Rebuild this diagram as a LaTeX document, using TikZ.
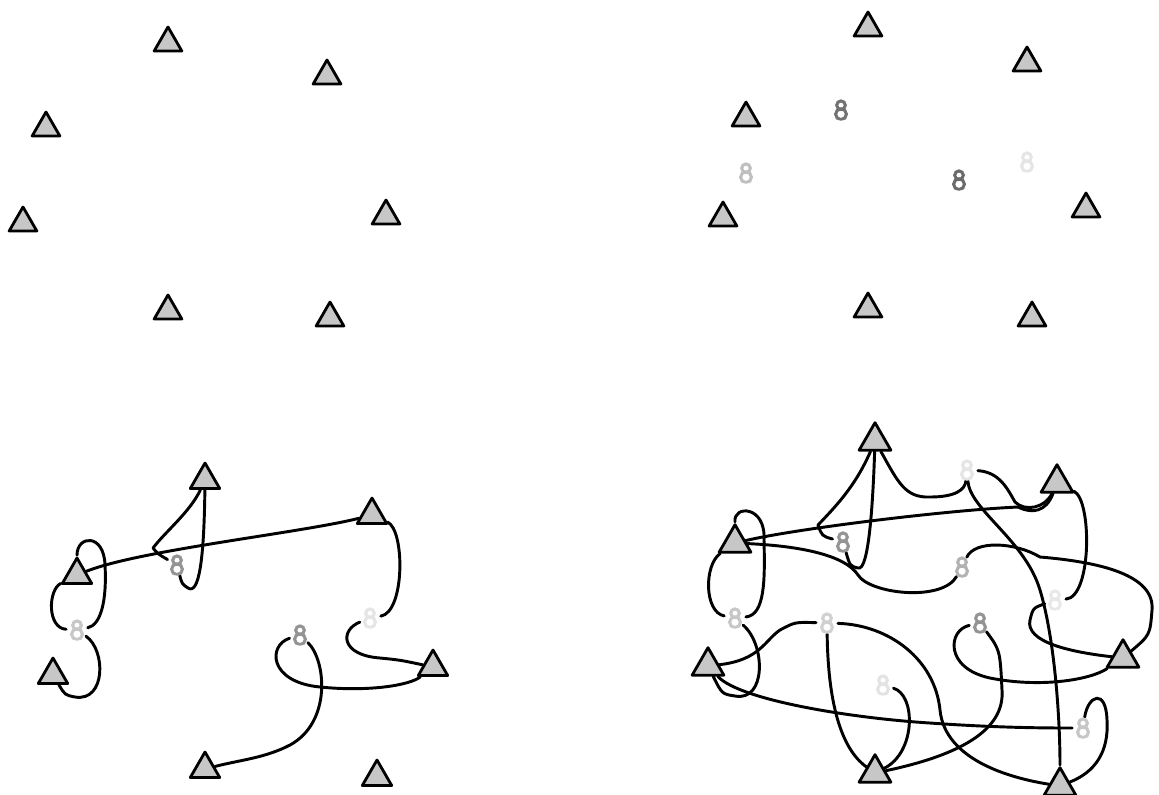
\documentclass[tikz,border=0pt]{standalone}
\usetikzlibrary{shapes.geometric}
\pgfdeclarelayer{bg}
\pgfsetlayers{bg,main}
\tikzset{
  tri/.style={regular polygon, regular polygon sides=3, draw=black, fill=black!22,
    line width=2.1pt, line join=round, inner sep=0pt, minimum size=#1},
  ts/.style={tri=24pt},
  tm/.style={tri=25.5pt},
  tl/.style={tri=27.5pt},
  icon/.style={circle, inner sep=0pt, minimum size=16pt,
    path picture={\draw[#1, line width=2.3pt, shift={(path picture bounding box.center)}]
      (0,-4.8) circle[radius=4.3] (0,4.2) circle[radius=5.4];}},
  wire/.style={draw=black, line width=2.2pt, line cap=round, line join=round}
}
\begin{document}
\begin{tikzpicture}[x=0.75pt,y=-0.75pt]
\useasboundingbox (0,0) rectangle (1159,794);
% ---------- top left ----------
\node[ts] (a1) at (168,43) {};
\node[ts] (a2) at (327,76) {};
\node[ts] (a3) at (46,128) {};
\node[ts] (a4) at (23,223) {};
\node[ts] (a5) at (386,216) {};
\node[ts] (a6) at (168,311) {};
\node[ts] (a7) at (330,318) {};
% ---------- top right ----------
\node[ts] (b1) at (868,28) {};
\node[ts] (b2) at (1027,63) {};
\node[ts] (b3) at (746,118) {};
\node[ts] (b4) at (723,218) {};
\node[ts] (b5) at (1086,209) {};
\node[ts] (b6) at (868,309) {};
\node[ts] (b7) at (1032,318) {};
\node[icon=black!55] (bi1) at (841,110) {};
\node[icon=black!25] (bi2) at (746,173) {};
\node[icon=black!58] (bi3) at (959,180) {};
\node[icon=black!10] (bi4) at (1027,162) {};
% ---------- bottom left ----------
\node[tm] (A) at (205,480) {};
\node[tm] (B) at (372,515) {};
\node[tm] (C) at (77,575) {};
\node[tm] (D) at (53,675) {};
\node[tm] (E) at (433,667) {};
\node[tm] (F) at (205,769) {};
\node[tm] (G) at (377,777) {};
\node[icon=black!42] (i1) at (177,565) {};
\node[icon=black!22] (i2) at (77,630) {};
\node[icon=black!42] (i3) at (300,635) {};
\node[icon=black!10] (i4) at (370,618) {};
% ---------- bottom right ----------
\node[tl] (T1) at (875,441) {};
\node[tl] (T2) at (1057,483) {};
\node[tl] (T3) at (735,543) {};
\node[tl] (T4) at (708,666) {};
\node[tl] (T5) at (1123,658) {};
\node[tl] (T6) at (875,773) {};
\node[tl] (T7) at (1060,786) {};
\node[icon=black!42] (j843) at (843,542) {};
\node[icon=black!10] (j967) at (967,470) {};
\node[icon=black!30] (j960) at (962,567) {};
\node[icon=black!22] (j735) at (735,618) {};
\node[icon=black!9] (j1055) at (1055,600) {};
\node[icon=black!18] (j828) at (827,623) {};
\node[icon=black!42] (j980) at (980,623) {};
\node[icon=black!11] (j883) at (883,685) {};
\node[icon=black!22] (j1083) at (1083,728) {};
\begin{pgfonlayer}{bg}
% bottom left connectors
\draw[wire] (C) .. controls (140,550) and (300,533) .. (B);
\draw[wire] (A) .. controls (190,512) and (165,532) .. (153,548) .. controls (158,554) .. (i1);
\draw[wire] (A) .. controls (204,560) and (199,595) .. (188,588) .. controls (182,584) .. (i1);
\draw[wire] (C) .. controls (48,590) and (47,628) .. (i2);
\draw[wire] (C.north) .. controls (77,535) and (104,533) .. (105,565) .. controls (107,600) and (101,625) .. (i2);
\draw[wire] (i2) .. controls (106,650) and (106,702) .. (75,697) .. controls (65,695) .. (D);
\draw[wire] (B) .. controls (405,530) and (405,612) .. (i4);
\draw[wire] (i4) .. controls (340,630) and (340,655) .. (380,658) .. controls (400,660) .. (E);
\draw[wire] (i3) .. controls (268,645) and (268,682) .. (320,687) .. controls (370,692) and (410,685) .. (E);
\draw[wire] (i3) .. controls (326,660) and (332,722) .. (290,745) .. controls (265,758) and (240,760) .. (F);
% bottom right connectors
\draw[wire] (T3) .. controls (800,528) and (950,510) .. (1018,507) .. controls (1032,514) and (1046,512) .. (T2);
\draw[wire] (T1) .. controls (855,487) and (835,507) .. (818,525) .. controls (822,536) .. (j843);
\draw[wire] (T1) .. controls (873,500) and (869,572) .. (858,568) .. controls (850,566) .. (j843);
\draw[wire] (T1) .. controls (898,482) and (905,498) .. (930,497) .. controls (955,497) and (965,490) .. (j967);
\draw[wire] (j967) .. controls (1000,472) and (1008,490) .. (1015,502) .. controls (1025,512) and (1045,508) .. (T2);
\draw[wire] (j967) .. controls (970,510) and (1025,540) .. (1040,590) .. controls (1055,640) and (1060,720) .. (T7);
\draw[wire] (T2) .. controls (1092,500) and (1092,597) .. (j1055);
\draw[wire] (T5) .. controls (1070,652) and (1025,642) .. (1030,620) .. controls (1033,608) .. (j1055);
\draw[wire] (j960) .. controls (975,540) and (1015,542) .. (1040,557) .. controls (1100,562) and (1155,575) .. (1152,610) .. controls (1150,635) .. (T5);
\draw[wire] (T3) .. controls (800,546) and (845,555) .. (858,575) .. controls (870,594) and (942,602) .. (j960);
\draw[wire] (T3) .. controls (704,565) and (704,612) .. (j735);
\draw[wire] (T3.north) .. controls (733,505) and (766,505) .. (764,540) .. controls (765,580) and (765,615) .. (j735);
\draw[wire] (j735) .. controls (766,645) and (766,702) .. (735,696) .. controls (722,694) .. (T4);
\draw[wire] (T4) .. controls (760,660) and (765,640) .. (780,630) .. controls (795,622) .. (j828);
\draw[wire] (j828) .. controls (890,625) and (935,660) .. (940,710) .. controls (945,760) and (1010,778) .. (T7);
\draw[wire] (j828) .. controls (828,700) and (840,748) .. (T6);
\draw[wire] (T4) .. controls (740,700) and (850,718) .. (930,723) .. controls (1000,728) and (1050,728) .. (j1083);
\draw[wire] (j883) .. controls (916,695) and (916,752) .. (T6);
\draw[wire] (T6) .. controls (960,755) and (1005,730) .. (1002,690) .. controls (1000,650) .. (j980);
\draw[wire] (j980) .. controls (948,630) and (944,668) .. (990,678) .. controls (1040,688) and (1090,680) .. (T5);
\draw[wire] (j1083) .. controls (1088,695) and (1106,688) .. (1107,720) .. controls (1109,752) and (1095,772) .. (T7);
\end{pgfonlayer}
\end{tikzpicture}
\end{document}
